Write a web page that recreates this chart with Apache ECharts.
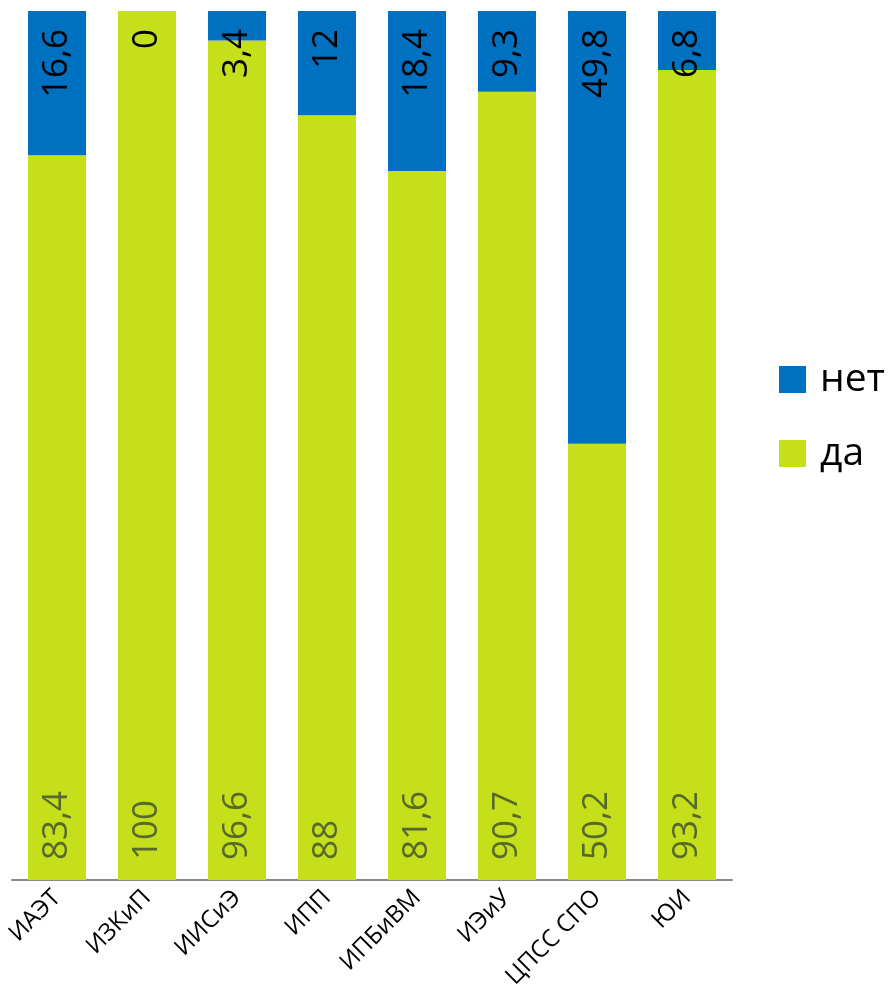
<!DOCTYPE html>
<html><head><meta charset="utf-8">
<script src="https://cdn.jsdelivr.net/npm/echarts@6/dist/echarts.min.js"></script>
<style>html,body{margin:0;padding:0;background:#fff}#c{width:890px;height:1002px}</style>
</head><body><div id="c"></div>
<script>
const categories = ['ИАЭТ','ИЗКиП','ИИСиЭ','ИПП','ИПБиВМ','ИЭиУ','ЦПСС СПО','ЮИ'];
const yesValues = [83.4,100,96.6,88,81.6,90.7,50.2,93.2];
const noValues = [16.6,0,3.4,12,18.4,9.3,49.8,6.8];
const FONT = '"Open Sans", "Noto Sans", sans-serif';
const fmt = p => String(p.value).replace('.', ',');
const chart = echarts.init(document.getElementById('c'));
chart.setOption({
  animation: false,
  grid: {left: 12, right: 158, top: 11, bottom: 122, containLabel: false},
  legend: {
    orient: 'vertical', left: 774, top: 355,
    data: ['нет','да'],
    itemWidth: 27, itemHeight: 27, itemGap: 35, icon: 'rect',
    textStyle: {fontFamily: FONT, fontSize: 39, color: '#000', padding: [0,0,0,9], lineHeight: 27}
  },
  xAxis: {
    type: 'category', data: categories,
    axisLine: {lineStyle: {color: '#888', width: 2}},
    axisTick: {show: false},
    axisLabel: {rotate: 45, interval: 0, fontFamily: FONT, fontSize: 24, color: '#000', margin: 14}
  },
  yAxis: {type: 'value', min: 0, max: 100, show: false, splitLine: {show: false}},
  series: [
    {
      name: 'да', type: 'bar', stack: 'a', data: yesValues, barWidth: 58,
      itemStyle: {color: '#c5e01b'},
      label: {show: true, position: 'insideBottom', rotate: 90, align: 'left', verticalAlign: 'middle',
        distance: 20, formatter: fmt, fontFamily: FONT, fontSize: 35, color: '#56682a'}
    },
    {
      name: 'нет', type: 'bar', stack: 'a', data: noValues, barWidth: 58,
      itemStyle: {color: '#0070c0'},
      label: {show: true, position: 'insideTop', rotate: 90, align: 'right', verticalAlign: 'middle',
        distance: 18, formatter: fmt, fontFamily: FONT, fontSize: 35, color: '#000'}
    }
  ]
});
</script></body></html>
